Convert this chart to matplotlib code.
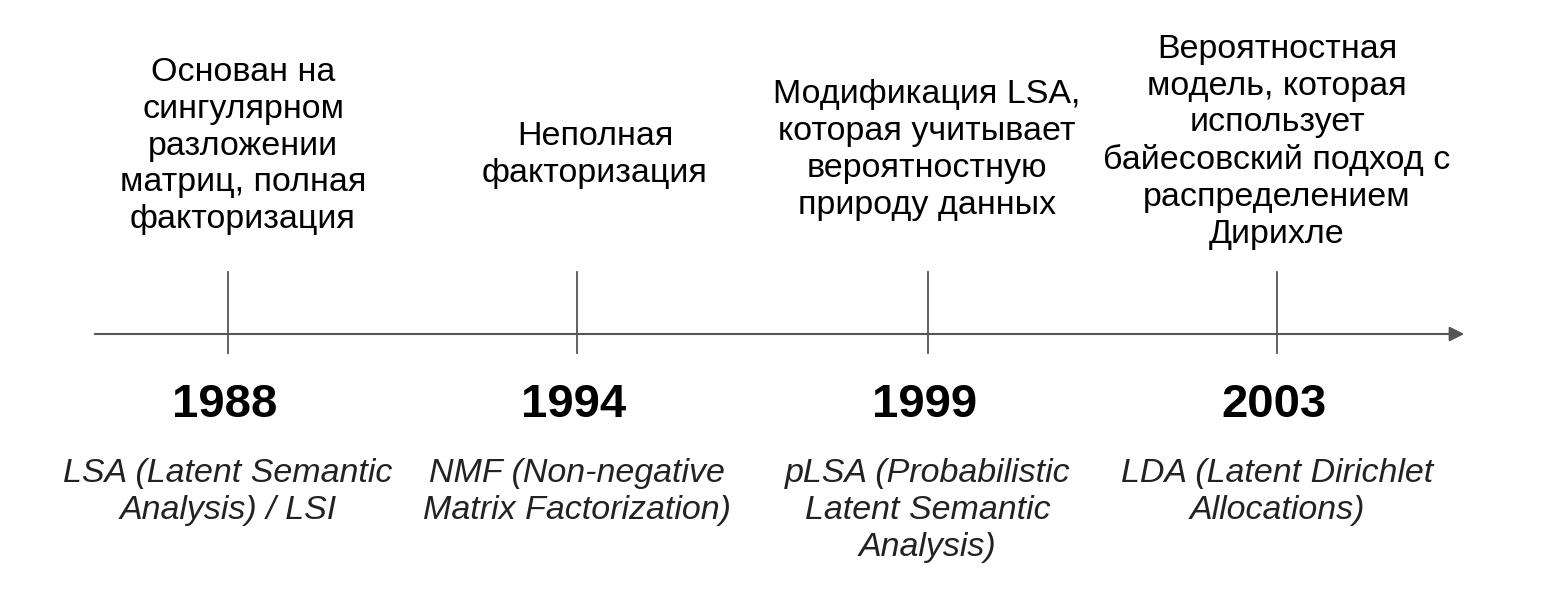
import matplotlib.pyplot as plt

years = ['1988', '1994', '1999', '2003']
descriptions = [
    'Основан на\nсингулярном\nразложении\nматриц, полная\nфакторизация',
    'Неполная\nфакторизация',
    'Модификация LSA,\nкоторая учитывает\nвероятностную\nприроду данных',
    'Вероятностная\nмодель, которая\nиспользует\nбайесовский подход с\nраспределением\nДирихле',
]
methods = [
    'LSA (Latent Semantic\nAnalysis) / LSI',
    'NMF (Non-negative\nMatrix Factorization)',
    'pLSA (Probabilistic\nLatent Semantic\nAnalysis)',
    'LDA (Latent Dirichlet\nAllocations)',
]
xpos = [228, 577, 928, 1277]
desc_x = [243, 595, 927, 1277]
desc_y = [146, 155, 150, 142]

plt.rcParams['font.family'] = ['Liberation Sans', 'DejaVu Sans']
fig = plt.figure(figsize=(15.6, 6.09), dpi=100)
ax = fig.add_axes([0, 0, 1, 1])
ax.set_xlim(0, 1560)
ax.set_ylim(609, 0)
ax.axis('off')

ax.annotate('', xy=(1467, 334), xytext=(92, 334),
            arrowprops=dict(arrowstyle='-|>', color='#555555', lw=1.5,
                            mutation_scale=22))
for x, yr, d, m, dx, dy in zip(xpos, years, descriptions, methods, desc_x, desc_y):
    ax.plot([x, x], [272, 353], color='#555555', lw=1.3)
    ax.text(x - 3, 405, yr, ha='center', va='center', fontsize=34,
            fontweight='bold', color='black')
    ax.text(dx, dy, d, ha='center', va='center',
            fontsize=24.5, linespacing=1.24, color='black')
    ax.text(x, 458, m, ha='center', va='top', fontsize=24.5, style='italic',
            linespacing=1.24, color='#222222')

fig.savefig('out.png', dpi=100)
